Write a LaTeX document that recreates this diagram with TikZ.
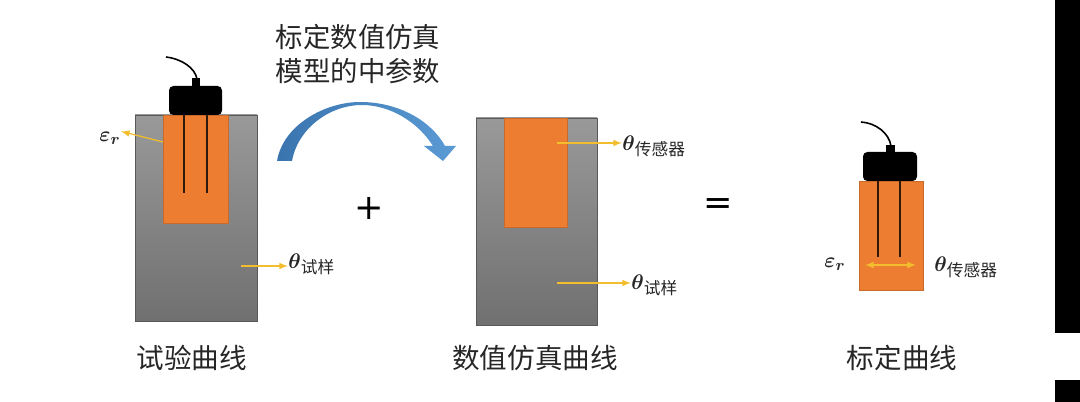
\documentclass[tikz,border=0pt]{standalone}
\usepackage {amsmath}
\usepackage {amssymb}
\usepackage {xcolor}
\usepackage{fontspec}
\newfontfamily\cjk{Noto Sans CJK SC}
\newfontfamily\signfont{DejaVu Sans}
\definecolor{sensororange}{HTML}{ED7D31}
\definecolor{arrowyellow}{HTML}{F2BE2E}
\definecolor{labelgray}{HTML}{262626}
\definecolor{arcdark}{HTML}{3A74AE}
\definecolor{arclight}{HTML}{5B9BD5}

\begin{document}
\begin{tikzpicture}[x=0.02cm,y=0.02cm,every text node part/.style={align=center},>=latex]
\tikzstyle{every node}+=[inner sep=0pt,text=labelgray]
\tikzstyle{block}=[draw=black!65,line width=0.5pt,top color=black!40,bottom color=black!56]
\tikzstyle{sensor}=[fill=sensororange,draw=sensororange!85!black,line width=0.3pt]
\tikzstyle{head}=[fill=black,rounded corners=2.5pt]
\tikzstyle{cable}=[black,line width=0.9pt]
\tikzstyle{probe}=[black!80!sensororange,line width=1.3pt]
\tikzstyle{ray}=[->,arrowyellow,line width=0.7pt]
\tikzstyle{caption}=[font=\cjk\fontsize{15.7}{20}\selectfont]
\tikzstyle{sign}=[text=black,font=\signfont\fontsize{20}{22}\selectfont]
\newcommand{\thetalabel}[1]{\fontsize{12.5}{15}\selectfont$\boldsymbol{\theta}$\raisebox{-0.5ex}{\cjk\fontsize{9.5}{11}\selectfont #1}}
\newcommand{\epslabel}{\fontsize{12.5}{15}\selectfont$\boldsymbol{\varepsilon_r}$}
\useasboundingbox (0,0) rectangle (1080,-402);
% black bars on the right
\fill [black] (1055,0) rectangle (1080,-333);
\fill [black] (1055,-380) rectangle (1080,-402);
% test block
\draw [block] (135,-115) rectangle (257,-321);
\draw [sensor] (163,-115) rectangle (228,-223);
\draw [probe] (184,-112) -- (184,-193);
\draw [probe] (207,-112) -- (207,-193);
\fill [head] (169,-86) rectangle (222,-115);
\fill [black] (192,-78) rectangle (200,-87);
\draw [cable] (166,-57) .. controls (182,-59) and (195,-68) .. (197,-79);
\node (epsa) at (110,-138) {\epslabel};
\node [anchor=west] (thetaa) at (288,-264) {\thetalabel{试样}};
\coordinate (epsastart) at (163,-142);
\coordinate (thetaastart) at (241,-266);
\draw [ray] (epsastart) -- (epsa.north east);
\draw [ray] (thetaastart) -- (thetaastart -| thetaa.west);
% curved arrow
\shade [left color=arcdark,right color=arclight] (277,-161) .. controls (283,-125) and (325,-102) .. (360,-102) .. controls (400,-102) and (432,-122) .. (445,-146) -- (456,-146) -- (443,-161) -- (424,-146) -- (433,-146) .. controls (418,-122) and (390,-105) .. (362,-105) .. controls (330,-105) and (298,-128) .. (292,-161) -- cycle;
\node (title) at (358,-54) [font=\cjk\fontsize{15.6}{19}\selectfont] {标定数值仿真 \\ 模型的中参数};
\node [sign] (plus) at (369,-208) {+};
\node [sign] (equal) at (718,-207) {=};
% simulation block
\draw [block] (476,-118) rectangle (597,-325);
\draw [sensor] (504,-118) rectangle (567,-227);
\node [anchor=west] (thetab) at (622,-146) {\thetalabel{传感器}};
\node [anchor=west] (thetac) at (631,-285) {\thetalabel{试样}};
\coordinate (thetabstart) at (557,-143);
\coordinate (thetacstart) at (557,-283);
\draw [ray] (thetabstart) -- (thetabstart -| thetab.west);
\draw [ray] (thetacstart) -- (thetacstart -| thetac.west);
% calibrated sensor
\draw [sensor] (859,-181) rectangle (923,-290);
\draw [probe] (878,-178) -- (878,-257);
\draw [probe] (900,-178) -- (900,-257);
\fill [head] (863,-152) rectangle (917,-181);
\fill [black] (886,-145) rectangle (895,-153);
\draw [cable] (861,-122) .. controls (876,-123) and (889,-133) .. (891,-146);
\coordinate (raya) at (865,-265);
\coordinate (rayb) at (916,-265);
\draw [<->,arrowyellow,line width=0.7pt] (raya) -- (rayb);
\node (epsb) at (835,-264) {\epslabel};
\node [anchor=west] (thetad) at (934,-267) {\thetalabel{传感器}};
% captions
\node [caption] (capa) at (192,-358) {试验曲线};
\node [caption] (capb) at (535,-358) {数值仿真曲线};
\node [caption] (capc) at (902,-358) {标定曲线};
\end{tikzpicture}
\end{document}
